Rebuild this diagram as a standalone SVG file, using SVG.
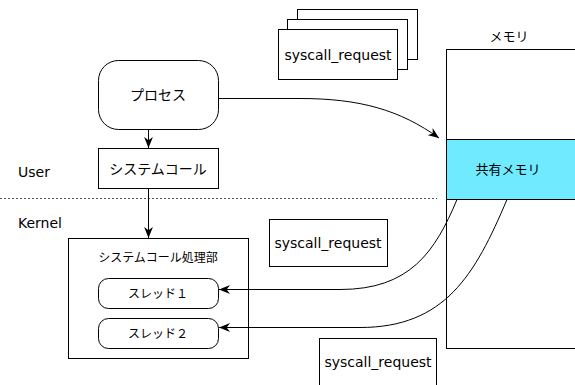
<svg xmlns="http://www.w3.org/2000/svg" width="575" height="385" viewBox="0 0 575 385">
<style>
.box{fill:#fff;stroke:#000;stroke-width:1}
.t{font-family:"DejaVu Sans","Noto Sans CJK JP",sans-serif;fill:#000;text-anchor:middle}
.l{font-family:"DejaVu Sans","Noto Sans CJK JP",sans-serif;fill:#000;font-size:14px}
.c{fill:none;stroke:#000;stroke-width:1}
</style>
<defs>
<marker id="arr" viewBox="0 0 10 8" refX="10" refY="4" markerWidth="11" markerHeight="9" orient="auto" markerUnits="userSpaceOnUse">
<path d="M0,0 L10,4 L0,8 L3,4 z" fill="#000"/>
</marker>
</defs>
<rect width="575" height="385" fill="#fff"/>

<g id="memory">
<rect class="box" x="446.5" y="49.5" width="140" height="299"/>
<text class="t" x="509" y="41" font-size="13">メモリ</text>
</g>
<g id="shared-memory">
<rect x="446.5" y="139.5" width="140" height="60" fill="#6feaff" stroke="#000"/>
<text class="t" x="508" y="174" font-size="13">共有メモリ</text>
</g>

<g id="syscall-request-stack">
<rect class="box" x="297.5" y="9.5" width="120" height="50"/>
<rect class="box" x="287.5" y="19.5" width="120" height="50"/>
<rect class="box" x="278.5" y="29.5" width="119" height="50"/>
<text class="t" x="338" y="60" font-size="14">syscall_request</text>
</g>

<g id="syscall-request-mid">
<rect class="box" x="269.5" y="219.5" width="118" height="47"/>
<text class="t" x="328" y="248" font-size="14">syscall_request</text>
</g>

<g id="syscall-request-bottom">
<rect class="box" x="319.5" y="338.5" width="117" height="60"/>
<text class="t" x="378" y="367" font-size="14">syscall_request</text>
</g>

<g id="user-label"><text class="l" x="18" y="177">User</text></g>
<g id="kernel-label"><text class="l" x="18" y="228">Kernel</text></g>

<g id="boundary">
<line x1="0" y1="198.5" x2="437" y2="198.5" stroke="#555" stroke-width="1" stroke-dasharray="2,2"/>
</g>

<g id="process">
<rect class="box" x="98.5" y="60.5" width="120" height="69" rx="20" ry="20"/>
<text class="t" x="158" y="100" font-size="14">プロセス</text>
</g>

<g id="systemcall">
<rect class="box" x="98.5" y="148.5" width="120" height="40"/>
<text class="t" x="158" y="174" font-size="14">システムコール</text>
</g>

<g id="handler">
<rect class="box" x="68.5" y="238.5" width="180" height="120"/>
<text class="t" x="158" y="262" font-size="12">システムコール処理部</text>
</g>

<g id="thread1">
<rect class="box" x="98.5" y="278.5" width="120" height="30" rx="10" ry="10"/>
<text class="t" x="158" y="298" font-size="12">スレッド１</text>
</g>

<g id="thread2">
<rect class="box" x="98.5" y="318.5" width="120" height="30" rx="10" ry="10"/>
<text class="t" x="158" y="338" font-size="12">スレッド２</text>
</g>

<g id="connectors">
<path class="c" d="M148.5,130 L148.5,148" marker-end="url(#arr)"/>
<path class="c" d="M148.5,189 L148.5,238" marker-end="url(#arr)"/>
<path class="c" d="M218.5,98.5 L300,98.5 C360,98.5 400,110 439,138" marker-end="url(#arr)"/>
<path class="c" d="M457,199.5 C435,252 410,289.5 340,289.5 L219,289.5" marker-end="url(#arr)"/>
<path class="c" d="M507,199.5 C475,275 445,327.5 360,327.5 L219,327.5" marker-end="url(#arr)"/>
</g>
</svg>
